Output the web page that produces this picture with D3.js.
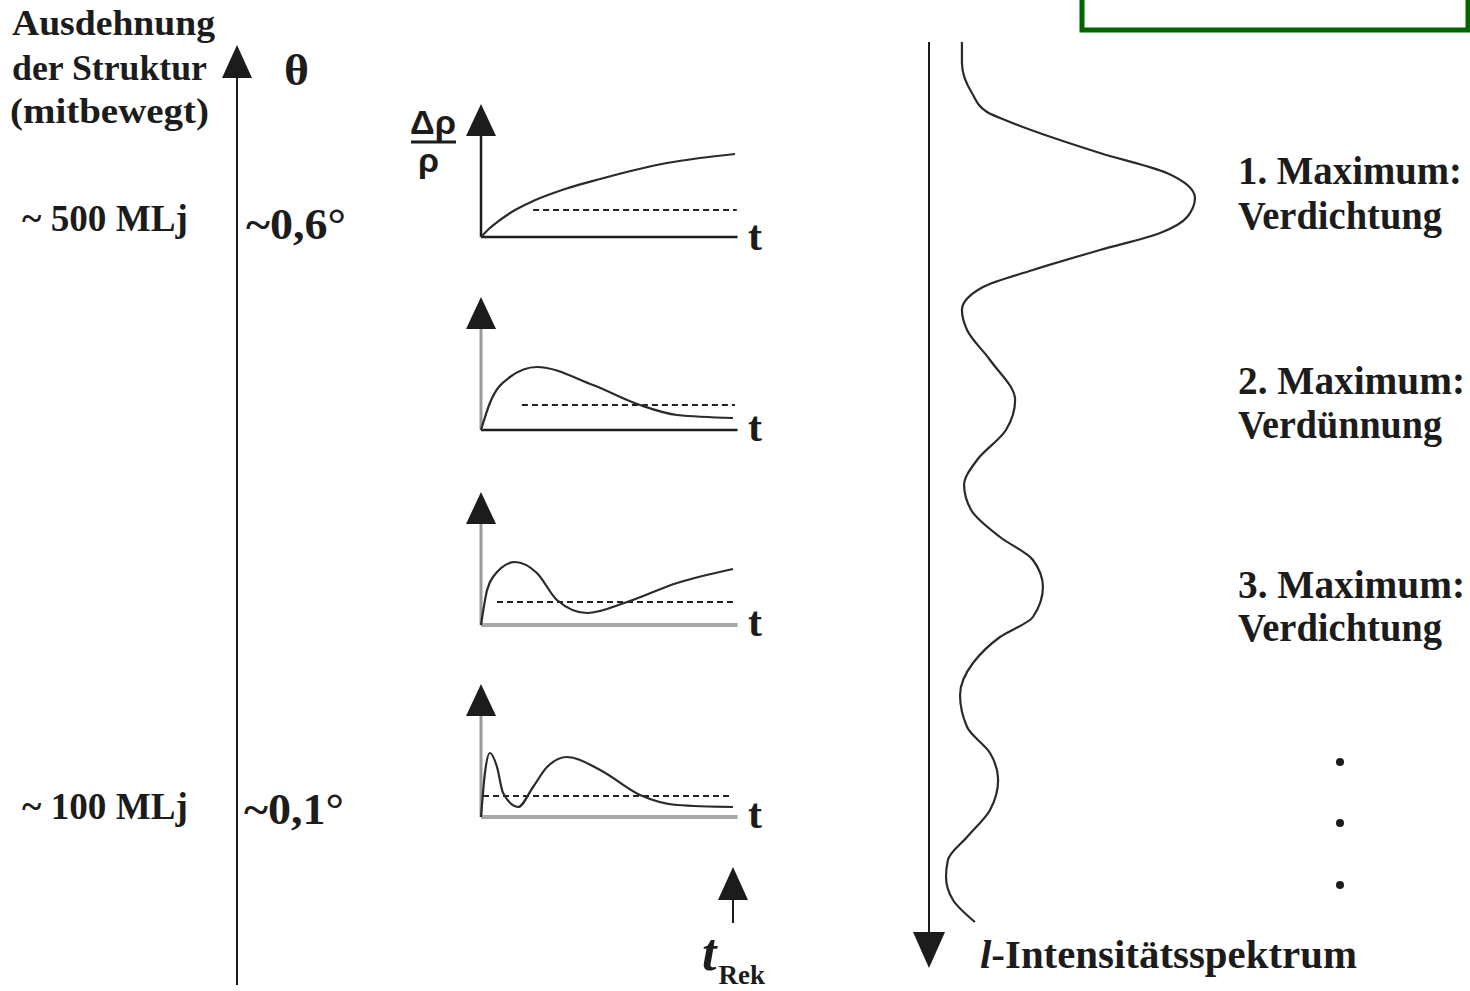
<!DOCTYPE html>
<html><head><meta charset="utf-8">
<script src="https://cdn.jsdelivr.net/npm/d3@7"></script>
<style>body{margin:0;background:#fff}svg{display:block}</style>
</head><body><svg id="c" width="1470" height="991"></svg>
<script>
// ---------- data ----------
const panelOrigins = [237, 430, 625, 817];
const curve1T = [0, 0.35, 0.75, 1.34, 2.05, 3.31, 4.69, 6.06, 7.32, 8.62, 10];
const curve1V = [0, 9, 17, 27, 36, 48, 58, 67, 74, 79, 83];
const curve2T = [0, 0.35, 1.14, 2.2, 4.41, 6.26, 7.72, 9.92];
const curve2V = [0, 27, 53, 63, 45, 25, 15, 12];
const curve3T = [0, 0.24, 0.47, 1.34, 2.2, 2.99, 4.17, 5.75, 7.72, 9.92];
const curve3V = [0, 35, 48, 63, 52, 25, 12, 23, 42, 56];
const curve4T = [0, 0.16, 0.35, 0.63, 0.87, 1.46, 2.05, 2.6, 3.39, 4.69, 6.26, 7.72, 9.92];
const curve4V = [0, 45, 64, 50, 24, 10, 30, 50, 60, 47, 22, 12, 10];
const levelValues = [27, 25, 23, 21];
const levelStartT = [2.05, 1.61, 0.63, 0.08];
const levelEndT = [10.07, 10, 9.92, 9.92];
const spectrumPos = [0,21,51,70,80,111,131,156,175,191,208,228,245,268,288,318,358,388,418,443,468,495,518,545,575,595,621,653,685,711,738,768,795,818,835,858,880];
const spectrumInt = [12.2,12.2,15.9,21.5,30.0,63.3,88.1,98.5,95.6,85.6,63.3,38.5,20.0,12.2,14.1,22.6,31.9,28.5,17.8,13.0,15.6,26.3,38.5,42.2,38.5,26.3,16.3,11.5,14.1,22.6,25.6,22.6,14.1,7.0,6.3,8.9,17.0];
const titleLines = ["Ausdehnung", "der Struktur", "(mitbewegt)"];
const scaleLabels = ["~ 500 MLj", "~ 100 MLj"];
const angleLabels = ["~0,6°", "~0,1°"];
const maxLabels = ["1. Maximum:", "Verdichtung", "2. Maximum:", "Verdünnung", "3. Maximum:", "Verdichtung"];
const spectrumLabel = "-Intensitätsspektrum";

// ---------- setup ----------
const svg = d3.select("#c");
const ink = "#1c1c1c";
const serif = "'Liberation Serif','Times New Roman',serif";
const sans = "'Liberation Sans',Arial,sans-serif";

function label(txt, x, y, size, len, opts = {}) {
  const t = svg.append("text").attr("x", x).attr("y", y)
    .attr("font-family", opts.family || serif)
    .attr("font-size", size)
    .attr("font-weight", opts.weight || "bold")
    .attr("font-style", opts.style || "normal")
    .attr("fill", ink).text(txt);
  if (len) t.attr("textLength", len).attr("lengthAdjust", "spacingAndGlyphs");
  return t;
}
function arrowHead(g, x, tipY, len, half, dir) {
  const baseY = tipY - dir * len;
  g.append("path").attr("d", `M${x},${tipY}L${x - half},${baseY}L${x + half},${baseY}Z`).attr("fill", ink);
}

// green frame (cropped box at top right)
svg.append("rect").attr("x", 1082).attr("y", -20).attr("width", 386).attr("height", 50)
  .attr("fill", "none").attr("stroke", "#006400").attr("stroke-width", 5);

// ---------- left axis ----------
label(titleLines[0], 12, 35, 36, 203);
label(titleLines[1], 12, 80, 36, 195);
label(titleLines[2], 10, 123, 36, 199);
svg.append("line").attr("x1", 237).attr("x2", 237).attr("y1", 985).attr("y2", 70).attr("stroke", ink).attr("stroke-width", 2);
arrowHead(svg, 237, 45, 33, 15, -1);
label("θ", 284, 85, 44, 25, {weight: "bold"});
label(scaleLabels[0], 22, 231, 38, 166);
label(angleLabels[0], 246, 239, 44, 100);
label(scaleLabels[1], 22, 819, 38, 166);
label(angleLabels[1], 244, 824, 44, 100);

// ---------- small panels ----------
const tScale = d3.scaleLinear().domain([0, 10]).range([481, 735]);
const vScale = d3.scaleLinear().domain([0, 100]).range([0, -100]);
const curves = [[curve1T, curve1V], [curve2T, curve2V], [curve3T, curve3V], [curve4T, curve4V]];
const yAxisColor = ["#1c1c1c", "#9a9a9a", "#9a9a9a", "#9a9a9a"];
const xAxisColor = ["#1c1c1c", "#1c1c1c", "#a8a8a8", "#a8a8a8"];
const line = d3.line().x(d => tScale(d[0])).y(d => vScale(d[1])).curve(d3.curveMonotoneX);

panelOrigins.forEach((oy, i) => {
  const g = svg.append("g").attr("transform", `translate(0,${oy})`);
  g.append("line").attr("x1", tScale(levelStartT[i])).attr("x2", tScale(levelEndT[i]))
    .attr("y1", vScale(levelValues[i])).attr("y2", vScale(levelValues[i]))
    .attr("stroke", "#222").attr("stroke-width", 2).attr("stroke-dasharray", "6,4");
  g.append("line").attr("x1", tScale(0)).attr("x2", tScale(10.1)).attr("y1", 0).attr("y2", 0)
    .attr("stroke", xAxisColor[i]).attr("stroke-width", i >= 2 ? 4 : 2.5);
  g.append("line").attr("x1", tScale(0)).attr("x2", tScale(0)).attr("y1", 0).attr("y2", vScale(105))
    .attr("stroke", yAxisColor[i]).attr("stroke-width", i === 0 ? 2.5 : 3);
  arrowHead(g, tScale(0), vScale(133), 32, 15, -1);
  const [ts, vs] = curves[i];
  g.append("path").datum(ts.map((t, k) => [t, vs[k]])).attr("d", line)
    .attr("fill", "none").attr("stroke", "#2a2a2a").attr("stroke-width", 2.2);
  g.append("text").attr("x", 748).attr("y", 13 - (i === 0 ? 0 : 2)).attr("font-family", serif)
    .attr("font-size", 42).attr("font-weight", "bold").attr("fill", ink).text("t");
});

// Δρ/ρ label
label("Δρ", 410, 134, 34, 46, {family: sans, weight: "bold"});
svg.append("line").attr("x1", 411).attr("x2", 456).attr("y1", 142).attr("y2", 142).attr("stroke", ink).attr("stroke-width", 3);
label("ρ", 418, 172, 34, null, {family: sans, weight: "bold"});

// t_Rek arrow
svg.append("line").attr("x1", 733).attr("x2", 733).attr("y1", 923).attr("y2", 895).attr("stroke", ink).attr("stroke-width", 2);
arrowHead(svg, 733, 867, 33, 15, -1);
const tr = svg.append("text").attr("x", 702).attr("y", 970).attr("font-family", serif)
  .attr("font-size", 52).attr("font-weight", "bold").attr("font-style", "italic").attr("fill", ink);
tr.append("tspan").text("t");
tr.append("tspan").attr("font-size", 27).attr("font-style", "normal").attr("dx", 2).attr("dy", 14).text("Rek");

// ---------- right: spectrum ----------
svg.append("line").attr("x1", 929).attr("x2", 929).attr("y1", 42).attr("y2", 940).attr("stroke", ink).attr("stroke-width", 2);
arrowHead(svg, 929, 968, 36, 16, 1);

const posScale = d3.scaleLinear().domain([0, 880]).range([42, 922]);
const intScale = d3.scaleLinear().domain([0, 100]).range([929, 1199]);
const specLine = d3.line().x(d => intScale(d[1])).y(d => posScale(d[0])).curve(d3.curveMonotoneY);
svg.append("path").datum(spectrumPos.map((p, k) => [p, spectrumInt[k]])).attr("d", specLine)
  .attr("fill", "none").attr("stroke", "#2a2a2a").attr("stroke-width", 2.2);

const sl = svg.append("text").attr("x", 980).attr("y", 968).attr("font-family", serif)
  .attr("font-size", 40).attr("font-weight", "bold").attr("fill", ink)
  .attr("textLength", 377).attr("lengthAdjust", "spacingAndGlyphs");
sl.append("tspan").attr("font-style", "italic").text("l");
sl.append("tspan").text(spectrumLabel);

const maxY = [184, 229, 394, 438, 598, 641];
const maxW = [224, 204, 227, 204, 227, 204];
maxLabels.forEach((m, i) => label(m, 1238, maxY[i], 40, maxW[i]));

[762, 823, 885].forEach(y => svg.append("circle").attr("cx", 1340).attr("cy", y).attr("r", 4).attr("fill", ink));
</script></body></html>
